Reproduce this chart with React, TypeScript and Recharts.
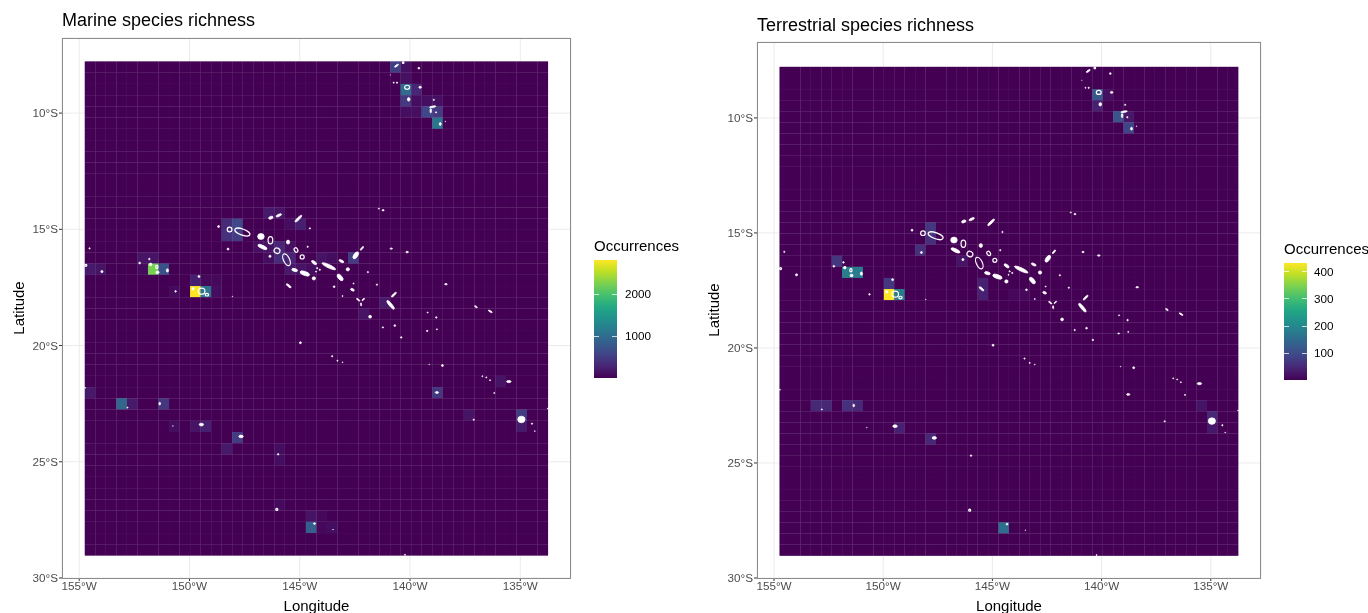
import React from "react";
import { ScatterChart, Scatter, XAxis, YAxis, CartesianGrid } from "recharts";

const FONT = '"Liberation Sans", Arial, Helvetica, sans-serif';

const lonTicks = [-155, -150, -145, -140, -135];
const latTicks = [-30, -25, -20, -15, -10];

const lonCells = [-154.507,-154.03,-153.552,-153.075,-152.597,-152.12,-151.643,-151.165,-150.688,-150.21,-149.733,-149.256,-148.778,-148.301,-147.823,-147.346,-146.869,-146.391,-145.914,-145.436,-144.959,-144.482,-144.004,-143.527,-143.049,-142.572,-142.095,-141.617,-141.14,-140.662,-140.185,-139.708,-139.23,-138.753,-138.275,-137.798,-137.321,-136.843,-136.366,-135.888,-135.411,-134.934,-134.456,-133.979];
const latCells = [-8.022,-8.505,-8.988,-9.471,-9.954,-10.437,-10.92,-11.403,-11.886,-12.369,-12.852,-13.335,-13.818,-14.301,-14.784,-15.267,-15.75,-16.233,-16.716,-17.199,-17.682,-18.165,-18.648,-19.131,-19.614,-20.097,-20.58,-21.063,-21.546,-22.029,-22.512,-22.995,-23.478,-23.961,-24.444,-24.927,-25.41,-25.893,-26.376,-26.859,-27.342,-27.825,-28.308,-28.791];
const cellLon = 0.4774;
const cellLat = 0.483;
const gridCentre = [{ lon: -144.243, lat: -18.406 }];

// [column, row, occurrences]; every other cell holds the background count
const marineCells = [
  [29,0,520],[30,0,130],[30,1,130],[30,2,1000],[31,2,300],[30,3,480],[31,3,110],[32,3,110],[33,3,110],[30,4,110],[31,4,110],[32,4,600],[33,4,480],[33,5,1100],
  [13,14,350],[14,14,600],[13,15,400],[14,15,500],[17,13,200],[18,13,150],[19,14,100],[20,14,250],[16,16,120],[17,16,150],[18,16,300],[19,16,120],[17,17,100],[18,17,350],[19,17,300],[19,18,200],[20,18,150],[21,18,100],[22,17,150],[23,17,100],[25,17,500],[28,21,200],[26,22,150],
  [0,18,200],[1,18,150],[5,17,150],[6,17,150],[5,18,80],[6,18,2250],[7,18,700],[10,20,2823],[11,20,1100],[12,20,100],[10,19,250],[11,19,60],[12,19,60],[8,20,80],
  [0,29,200],[3,30,930],[4,30,200],[7,30,450],[8,32,100],[10,32,150],[11,32,250],[14,33,500],[13,34,200],[18,34,100],[18,35,100],[0,34,40],[18,39,80],[21,40,150],[22,40,60],[21,41,850],[22,41,60],[23,41,100],[39,28,150],[33,29,450],[36,31,150],[41,31,500],[41,32,200],
];
const terrestrialCells = [
  [30,2,120],[31,2,20],[30,3,40],[32,4,110],[33,4,30],[33,5,90],[5,17,70],[6,18,185],[7,18,180],[10,20,432],[11,20,185],[10,19,70],[13,16,60],[14,14,70],[14,15,60],[17,17,25],[19,19,40],[19,20,40],[22,20,10],[23,20,10],[3,30,50],[4,30,50],[6,30,60],[7,30,50],[11,32,40],[14,33,50],[21,41,155],[40,30,25],[41,31,50],[41,32,30],
];

// [lon, lat, length°, width°, bearing, atoll outline]
const islands: [number, number, number, number, number, number][] = [
  [-148.18,-15.01,.24,.24,0,1],[-147.6,-15.12,.75,.3,20,1],[-146.76,-15.31,.3,.27,0,0],[-146.33,-15.47,.36,.24,90,1],[-146.69,-15.76,.45,.15,25,0],[-145.53,-15.55,.18,.15,90,0],[-146.03,-15.92,.3,.27,30,1],[-145.6,-16.31,.6,.3,65,1],[-145.17,-15.89,.24,.18,60,1],[-144.89,-16.19,.21,.21,0,1],
  [-146.31,-14.5,.21,.12,-20,0],[-145.95,-14.4,.27,.1,-25,0],[-145.06,-14.54,.42,.1,-45,0],[-144.54,-14.96,.06,.06,0,0],[-148.68,-14.88,.09,.09,0,0],[-148.25,-15.85,.09,.09,0,0],[-146.35,-16.16,.1,.1,0,0],[-145.23,-16.75,.27,.13,15,0],[-144.77,-16.9,.45,.18,20,0],[-144.36,-17.11,.15,.15,0,0],
  [-144.35,-16.43,.27,.12,35,0],[-143.68,-16.59,.68,.15,25,0],[-144.21,-16.67,.06,.06,0,0],[-144.09,-16.74,.06,.06,0,0],[-144.26,-16.82,.05,.05,0,0],[-143.11,-16.37,.24,.1,25,0],[-142.82,-16.72,.15,.15,0,0],[-143.17,-17.07,.36,.18,50,0],[-145.5,-17.43,.27,.09,40,0],[-142.46,-16.12,.36,.18,-55,0],
  [-142.18,-15.82,.21,.07,-50,0],[-144.64,-15.75,.06,.06,0,0],[-143.44,-17.47,.08,.08,0,0],[-142.61,-17.6,.18,.1,25,0],[-142.56,-17.33,.05,.05,0,0],[-143.06,-17.87,.05,.05,0,0],[-141.5,-17.38,.06,.06,0,0],[-141.91,-16.84,.06,.06,0,0],[-140.85,-15.83,.11,.06,0,0],[-140.13,-15.98,.12,.07,0,0],
  [-141.22,-14.18,.1,.06,0,0],[-141.41,-14.11,.05,.05,0,0],[-142.35,-18.03,.18,.06,40,0],[-142.12,-18.02,.15,.05,-40,0],[-142.22,-18.23,.15,.05,85,0],[-140.73,-17.81,.3,.08,-45,0],[-140.88,-18.25,.5,.13,50,0],[-141.81,-18.76,.13,.13,0,0],[-141.23,-19.22,.06,.06,0,0],[-140.69,-19.14,.08,.08,0,0],
  [-154.7,-16.55,.12,.12,0,1],[-153.97,-16.82,.1,.1,0,0],[-154.53,-15.82,.06,.06,0,0],[-152.26,-16.45,.08,.08,0,0],[-151.82,-16.28,.07,.07,0,0],[-151.76,-16.51,.12,.12,0,0],[-151.48,-16.62,.18,.13,90,1],[-151.45,-16.85,.14,.12,0,0],[-151,-16.77,.15,.1,90,0],[-149.84,-17.56,.12,.12,0,1],
  [-149.45,-17.66,.33,.3,0,1],[-149.21,-17.81,.18,.15,0,1],[-149.57,-17.03,.09,.09,0,0],[-150.63,-17.67,.07,.07,0,0],[-148.05,-17.89,.03,.03,0,0],[-140.61,-7.96,.21,.07,-35,0],[-140.31,-7.83,.1,.1,0,1],[-139.6,-8.07,.08,.08,0,0],[-140.9,-8.36,.02,.02,0,0],[-140.74,-8.69,.05,.05,0,0],
  [-140.59,-8.69,.06,.06,0,0],[-140.13,-8.89,.25,.21,0,1],[-139.54,-8.89,.12,.09,0,0],[-140.06,-9.41,.16,.12,90,0],[-138.92,-9.43,.06,.06,0,0],[-138.97,-9.73,.3,.07,-10,0],[-139.06,-9.9,.2,.07,90,0],[-138.82,-9.97,.06,.06,0,0],[-138.63,-10.47,.13,.09,90,0],[-138.4,-10.36,.03,.03,0,0],
  [-138.37,-17.36,.13,.06,0,0],[-137.01,-18.33,.14,.06,35,0],[-136.36,-18.53,.2,.06,30,0],[-138.53,-20.86,.09,.09,0,0],[-136.72,-21.32,.05,.05,0,0],[-136.54,-21.37,.05,.05,0,0],[-136.37,-21.49,.05,.05,0,0],[-135.52,-21.55,.21,.1,0,0],[-136.18,-22.04,.05,.05,0,0],[-137.11,-23.19,.06,.06,0,0],
  [-134.95,-23.18,.33,.3,0,0],[-134.47,-23.36,.06,.06,0,0],[-134.34,-23.68,.04,.04,0,0],[-133.75,-22.71,.04,.04,0,0],[-154.73,-21.82,.06,.03,0,0],[-152.81,-22.67,.05,.05,0,0],[-151.35,-22.5,.12,.08,90,0],[-150.75,-23.46,.03,.03,0,0],[-149.46,-23.4,.2,.12,0,0],[-147.66,-23.91,.2,.12,0,0],
  [-145.98,-24.68,.07,.07,0,0],[-146.04,-27.05,.12,.12,0,1],[-144.33,-27.66,.1,.07,0,0],[-143.49,-27.92,.03,.03,0,0],[-144.97,-19.88,.09,.09,0,0],[-143.53,-20.46,.06,.06,0,0],[-143.29,-20.65,.05,.05,0,0],[-143.06,-20.72,.04,.04,0,0],[-140.4,-19.65,.07,.07,0,0],[-139.2,-18.58,.05,.05,0,0],
  [-138.81,-18.79,.07,.07,0,0],[-139.22,-19.37,.08,.05,0,0],[-138.78,-19.3,.05,.05,0,0],[-139.13,-20.81,.03,.03,0,0],[-140.23,-29,.05,.05,0,0],[-138.78,-22.02,.15,.08,0,0],
];

const viridis = ["#440154","#482475","#414487","#355f8d","#2a788e","#21918c","#22a884","#44bf70","#7ad151","#bddf26","#fde725"];

const hex = (c: string) => [1, 3, 5].map((i) => parseInt(c.slice(i, i + 2), 16));
function colour(t: number) {
  const p = Math.max(0, Math.min(1, t)) * (viridis.length - 1);
  const i = Math.min(Math.floor(p), viridis.length - 2);
  const a = hex(viridis[i]);
  const b = hex(viridis[i + 1]);
  const m = a.map((v, k) => Math.round(v + (b[k] - v) * (p - i)));
  return `rgb(${m[0]},${m[1]},${m[2]})`;
}

const lonMin = -155.78;
const lonMax = -132.7;

type PanelProps = {
  title: string;
  left: number;
  width: number;
  plotLeft: number;
  plotRight: number;
  plotTop: number;
  latMax: number;
  hot: number[][];
  maxValue: number;
  minValue: number;
  titleTop: number;
  barLeft: number;
  barTop: number;
  barBottom: number;
  legendTicks: number[];
  labelLeft: number;
  nameTop: number;
};

function Panel(p: PanelProps) {
  const plotBottom = 578;
  const w = p.plotRight - p.plotLeft;
  const h = plotBottom - p.plotTop;
  const sx = w / (lonMax - lonMin);
  const sy = h / (p.latMax + 30);
  const lookup = new Map(p.hot.map((c) => [`${c[0]}_${c[1]}`, c[2]]));
  const cells: { lon: number; lat: number; value: number }[] = [];
  latCells.forEach((lat, r) =>
    lonCells.forEach((lon, c) => {
      cells.push({ lon, lat, value: lookup.get(`${c}_${r}`) ?? p.minValue });
    })
  );
  const isles = islands.map((d) => ({ lon: d[0], lat: d[1], len: d[2], wid: d[3], ang: d[4], ring: d[5] }));
  const tone = (v: number) => colour((v - p.minValue) / (p.maxValue - p.minValue));
  const barH = p.barBottom - p.barTop;
  const yOf = (v: number) => p.barBottom - ((v - p.minValue) / (p.maxValue - p.minValue)) * barH;
  const gradient = `linear-gradient(to top, ${viridis.join(",")})`;
  const labelStyle = { fontFamily: FONT, fontSize: 15, fill: "#000" };

  return (
    <div style={{ position: "absolute", left: p.left, top: 0, width: p.width, height: 613, fontFamily: FONT }}>
      <ScatterChart
        width={p.width}
        height={613}
        margin={{ top: p.plotTop, right: p.width - (p.plotRight - p.left), bottom: 0, left: 0 }}
      >
        <CartesianGrid stroke="#ebebeb" strokeWidth={1} />
        <XAxis
          type="number"
          dataKey="lon"
          domain={[lonMin, lonMax]}
          ticks={lonTicks}
          interval={0}
          allowDataOverflow
          height={35}
          tickSize={3}
          tickMargin={1}
          axisLine={false}
          tickLine={{ stroke: "#333" }}
          tick={{ fontFamily: FONT, fontSize: 11.7, fill: "#4d4d4d" }}
          tickFormatter={(v: number) => `${-v}°W`}
          label={{ value: "Longitude", position: "insideBottom", offset: 2, style: labelStyle }}
        />
        <YAxis
          type="number"
          dataKey="lat"
          domain={[-30, p.latMax]}
          ticks={latTicks}
          interval={0}
          allowDataOverflow
          width={p.plotLeft - p.left}
          tickSize={3}
          tickMargin={1}
          axisLine={false}
          tickLine={{ stroke: "#333" }}
          tick={{ fontFamily: FONT, fontSize: 11.7, fill: "#4d4d4d" }}
          tickFormatter={(v: number) => `${-v}°S`}
          label={{ value: "Latitude", angle: -90, position: "insideLeft", offset: p.plotLeft - p.left - 43, style: { ...labelStyle, textAnchor: "middle" } }}
        />
        <Scatter
          data={gridCentre}
          isAnimationActive={false}
          shape={(s: any) => (
            <rect
              x={s.cx - (lonCells.length * cellLon * sx) / 2}
              y={s.cy - (latCells.length * cellLat * sy) / 2}
              width={lonCells.length * cellLon * sx}
              height={latCells.length * cellLat * sy}
              fill="#9a7aaa"
            />
          )}
        />
        <Scatter
          data={cells}
          isAnimationActive={false}
          shape={(s: any) => (
            <rect
              x={s.cx - (cellLon * sx) / 2}
              y={s.cy - (cellLat * sy) / 2}
              width={cellLon * sx}
              height={cellLat * sy}
              fill={tone(s.payload.value)}
            />
          )}
        />
        <Scatter
          data={isles}
          isAnimationActive={false}
          shape={(s: any) => {
            const d = s.payload;
            const rx = (d.len * sx) / 2;
            const ry = (d.wid * sx) / 2;
            return d.ring ? (
              <ellipse
                cx={s.cx}
                cy={s.cy}
                rx={Math.max(rx - 0.3, 0.5)}
                ry={Math.max(ry - 0.3, 0.5)}
                fill="none"
                stroke="#fff"
                strokeWidth={1.2}
                transform={`rotate(${d.ang} ${s.cx} ${s.cy})`}
              />
            ) : (
              <ellipse
                cx={s.cx}
                cy={s.cy}
                rx={rx}
                ry={ry}
                fill="#fff"
                stroke="#fff"
                strokeWidth={0.7}
                transform={`rotate(${d.ang} ${s.cx} ${s.cy})`}
              />
            );
          }}
        />
      </ScatterChart>
      <div
        style={{
          position: "absolute",
          left: p.plotLeft - p.left,
          top: p.plotTop,
          width: w,
          height: h + 1,
          boxSizing: "border-box",
          border: "1px solid #8c8c8c",
          pointerEvents: "none",
        }}
      />
      <div style={{ position: "absolute", left: p.plotLeft - p.left, top: p.titleTop, fontSize: 18, lineHeight: "20px", color: "#000", whiteSpace: "nowrap" }}>
        {p.title}
      </div>
      <div style={{ position: "absolute", left: p.barLeft - p.left, top: p.nameTop, fontSize: 15, lineHeight: "18px", color: "#000", whiteSpace: "nowrap" }}>
        Occurrences
      </div>
      <div style={{ position: "absolute", left: p.barLeft - p.left, top: p.barTop, width: 23, height: barH, background: gradient }} />
      {p.legendTicks.map((t) => (
        <React.Fragment key={t}>
          <div style={{ position: "absolute", left: p.barLeft - p.left, top: yOf(t) - 0.5, width: 4.6, height: 1, background: "rgba(255,255,255,.75)" }} />
          <div style={{ position: "absolute", left: p.barLeft - p.left + 18.4, top: yOf(t) - 0.5, width: 4.6, height: 1, background: "rgba(255,255,255,.75)" }} />
          <div style={{ position: "absolute", left: p.labelLeft - p.left, top: yOf(t) - 7, fontSize: 11.7, lineHeight: "14px", color: "#000" }}>{t}</div>
        </React.Fragment>
      ))}
    </div>
  );
}

export default function App() {
  return (
    <div style={{ position: "absolute", left: 0, top: 0, width: 1368, height: 613, overflow: "hidden", background: "#fff", filter: "blur(0.3px)" }}>
      <Panel
        title="Marine species richness"
        left={0}
        width={684}
        plotLeft={62}
        plotRight={571}
        plotTop={38}
        latMax={-6.77}
        hot={marineCells}
        maxValue={2823}
        minValue={5}
        titleTop={10}
        barLeft={594}
        barTop={260}
        barBottom={377.5}
        legendTicks={[1000, 2000]}
        labelLeft={625}
        nameTop={237}
      />
      <Panel
        title="Terrestrial species richness"
        left={684}
        width={684}
        plotLeft={757}
        plotRight={1261}
        plotTop={42}
        latMax={-6.7}
        hot={terrestrialCells}
        maxValue={432}
        minValue={2}
        titleTop={15}
        barLeft={1284}
        barTop={263}
        barBottom={380}
        legendTicks={[100, 200, 300, 400]}
        labelLeft={1314}
        nameTop={240}
      />
    </div>
  );
}
